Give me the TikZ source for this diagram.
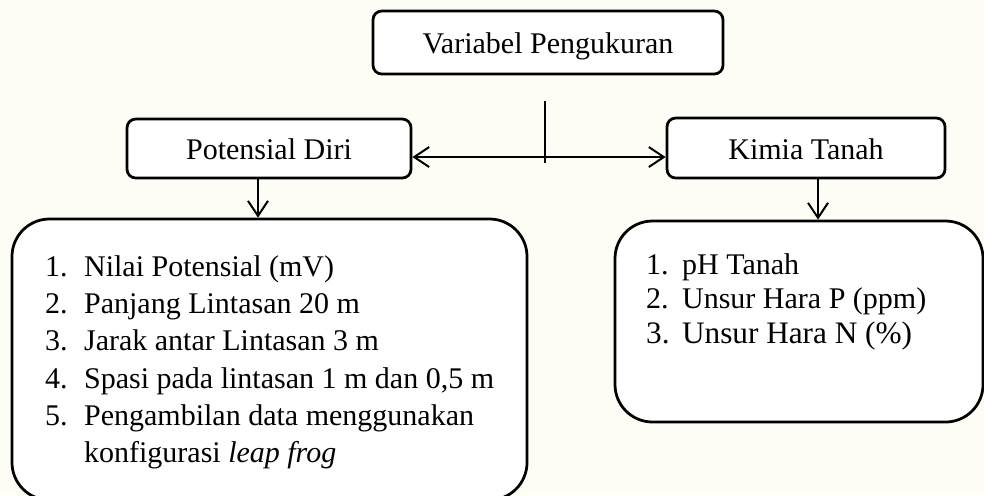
\documentclass[tikz,border=0pt]{standalone}
\usepackage{fontspec}
\setmainfont{Liberation Serif}
\usetikzlibrary{arrows.meta}
\definecolor{paper}{RGB}{253,253,246}
\newcommand{\potnum}[1]{\makebox[15.6pt][l]{#1}}
\newcommand{\kimnum}[1]{\makebox[14.4pt][l]{#1}}

\begin{document}
\begin{tikzpicture}[x=0.4pt,y=-0.4pt,>={Straight Barb[length=6pt,width=8pt]},
    box/.style={draw,fill=white,line width=1.1pt,rounded corners=3.5pt,inner sep=0pt,
      text height=8.8pt,text depth=0pt,font=\fontsize{12}{14}\selectfont},
    listbox/.style={draw,fill=white,line width=1.1pt,rounded corners=15pt,inner sep=0pt},
    listtext/.style={align=left,inner sep=0pt,anchor=north west},
    link/.style={line width=0.8pt}]
    \fill[paper] (0,0) rectangle (984,495);
    \useasboundingbox (0,0) rectangle (984,495);

    \node[box,minimum width=140pt,minimum height=25.2pt] (var) at (548,42.5) {Variabel Pengukuran};
    \node[box,minimum width=113.6pt,minimum height=23.6pt] (pot) at (269,148.5) {Potensial Diri};
    \node[box,minimum width=111.2pt,minimum height=24pt] (kim) at (806,148) {Kimia Tanah};

    \node[listbox,minimum width=206pt,minimum height=112.4pt] (listpot) at (269.5,359.5) {};
    \node[listbox,minimum width=147.2pt,minimum height=80.4pt] (listkim) at (799,321.5) {};

    \node[listtext,font=\fontsize{12}{14.9}\selectfont] (pottext) at ([xshift=13.6pt,yshift=-15pt]listpot.north west)
      {\potnum{1.}Nilai Potensial (mV)\\
       \potnum{2.}Panjang Lintasan 20 m\\
       \potnum{3.}Jarak antar Lintasan 3 m\\
       \potnum{4.}Spasi pada lintasan 1 m dan 0,5 m\\
       \potnum{5.}Pengambilan data menggunakan\\
       \potnum{}konfigurasi \textit{leap frog}};
    \node[listtext,font=\fontsize{12}{13.8}\selectfont] (kimtext) at ([xshift=12.8pt,yshift=-13.4pt]listkim.north west)
      {\kimnum{1.}pH Tanah\\
       \kimnum{2.}Unsur Hara P (ppm)\\
       \fontsize{12.5}{13.8}\selectfont\kimnum{3.}Unsur Hara N (\%)};

    % connectors
    \coordinate (split) at (545,101);
    \coordinate (mid) at (545,157);
    \coordinate (join) at (545,163);
    \draw[link] (split) -- (join);
    \draw[link,<->] (pot.east |- mid) -- (kim.west |- mid);
    \draw[link,->] ([xshift=-4.4pt]pot.south) -- ([xshift=-4.4pt]pot.south |- listpot.north);
    \draw[link,->] ([xshift=4.8pt]kim.south) -- ([xshift=4.8pt]kim.south |- listkim.north);
\end{tikzpicture}
\end{document}
